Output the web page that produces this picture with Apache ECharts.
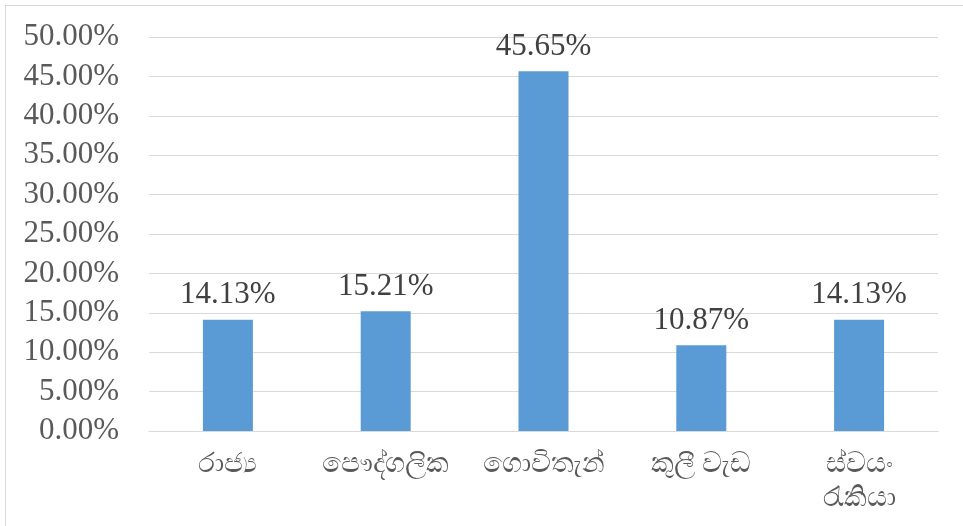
<!DOCTYPE html>
<html>
<head>
<meta charset="utf-8">
<script src="https://cdn.jsdelivr.net/npm/echarts@6/dist/echarts.min.js"></script>
<style>
html,body{margin:0;padding:0;overflow:hidden;background:#fff;}
#frame{position:absolute;left:5px;top:5px;width:1000px;height:600px;border:1px solid #d9d9d9;pointer-events:none;}
#c{position:absolute;left:0;top:0;width:963px;height:526px;}
</style>
</head>
<body>
<div id="c"></div>
<div id="frame"></div>
<script>
var categories = ['රාජ්‍ය', 'පෞද්ගලික', 'ගොවිතැන්', 'කුලී වැඩ', 'ස්වයං\nරැකියා'];
var values = [14.13, 15.21, 45.65, 10.87, 14.13];

var chart = echarts.init(document.getElementById('c'));
var serif = '"Liberation Serif", "Times New Roman", serif';
chart.setOption({
  animation: false,
  grid: {left: 149, right: 25, top: 37, bottom: 95, containLabel: false},
  xAxis: {
    type: 'category',
    data: categories,
    axisLine: {lineStyle: {color: '#d9d9d9', width: 1}},
    axisTick: {show: false},
    axisLabel: {color: '#595959', fontSize: 28, fontFamily: serif, margin: 17, lineHeight: 34, interval: 0, hideOverlap: false}
  },
  yAxis: {
    type: 'value',
    min: 0, max: 50, interval: 5,
    axisLine: {show: false},
    axisTick: {show: false},
    splitLine: {lineStyle: {color: '#d9d9d9', width: 1}},
    axisLabel: {
      color: '#595959', fontSize: 31, fontFamily: serif, margin: 30,
      formatter: function (v) { return v.toFixed(2) + '%'; }
    }
  },
  series: [{
    type: 'bar',
    data: values,
    barWidth: 50,
    itemStyle: {color: '#5b9bd5'},
    label: {
      show: true, position: 'top', distance: 9,
      color: '#404040', fontSize: 31, fontFamily: serif,
      formatter: function (p) { return p.value.toFixed(2) + '%'; }
    }
  }]
});
</script>
</body>
</html>
